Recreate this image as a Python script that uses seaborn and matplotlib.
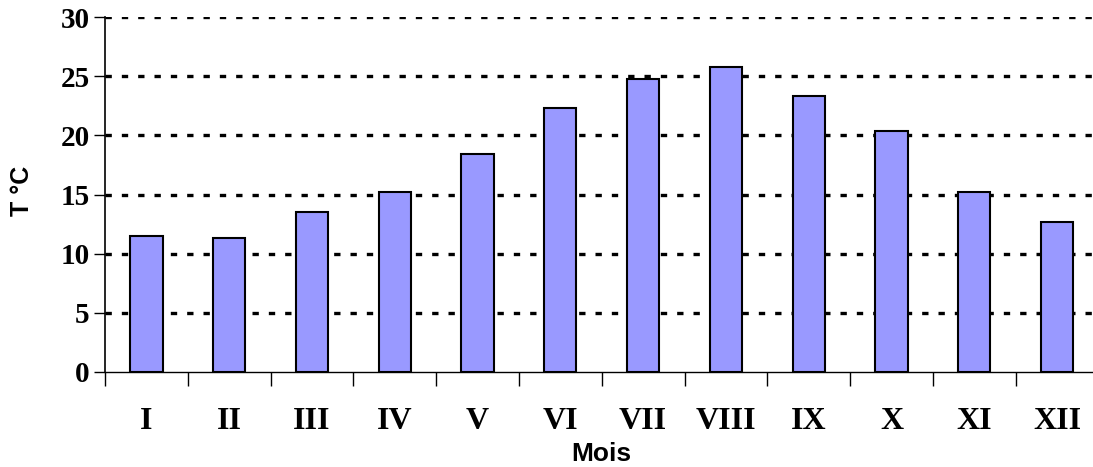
import numpy as np
import pandas as pd
import seaborn as sns
import matplotlib.pyplot as plt
from matplotlib.ticker import FixedLocator

months = ["I", "II", "III", "IV", "V", "VI", "VII", "VIII", "IX", "X", "XI", "XII"]
temps = [11.5, 11.3, 13.5, 15.2, 18.4, 22.3, 24.8, 25.8, 23.3, 20.4, 15.2, 12.7]
yticks = [0, 5, 10, 15, 20, 25, 30]

sns.set_theme(style="white")
plt.rcParams['font.family'] = ['Liberation Serif', 'DejaVu Serif']
plt.rcParams['text.color'] = 'black'
plt.rcParams['axes.labelcolor'] = 'black'
plt.rcParams['xtick.color'] = 'black'
plt.rcParams['ytick.color'] = 'black'

df = pd.DataFrame({"Mois": months, "T": temps})

fig = plt.figure(figsize=(10.93, 4.67), dpi=100)
ax = fig.add_axes([105 / 1093, 1 - 372 / 467, (1098.5 - 105) / 1093, (372 - 17) / 467])

sns.barplot(data=df, x="Mois", y="T", color="#9999FF", saturation=1,
            edgecolor="black", linewidth=1.5, width=0.39, ax=ax, zorder=3)

ax.set_ylim(0, 30)
ax.set_xlim(-0.5, len(months) - 0.5)

# grid
for v in yticks[1:]:
    ax.axhline(v, color="black", linewidth=2.4, linestyle=(0, (1.9, 3.0)), zorder=1)

ax.set_yticks(yticks)
ax.set_yticklabels([str(v) for v in yticks], fontsize=21, fontweight="bold")
ax.tick_params(axis="y", direction="out", length=8, width=1, color="black", pad=3, left=True,
               labelcolor="black")

# x: ticks at boundaries, labels at centres
ax.xaxis.set_major_locator(FixedLocator(np.arange(-0.5, len(months), 1.0)))
ax.xaxis.set_major_formatter(plt.NullFormatter())
ax.xaxis.set_minor_locator(FixedLocator(np.arange(len(months))))
ax.set_xticklabels(months, minor=True, fontsize=23, fontweight="bold")
ax.tick_params(axis="x", which="major", direction="out", length=10, width=1, color="black", bottom=True)
ax.tick_params(axis="x", which="minor", length=0, pad=25, labelcolor="black")

for s in ["top", "right"]:
    ax.spines[s].set_visible(False)
ax.spines["left"].set_color("black")
ax.spines["left"].set_linewidth(1.2)
ax.spines["bottom"].set_color("black")
ax.spines["bottom"].set_linewidth(1.0)

ax.set_xlabel("Mois", fontsize=19, fontweight="bold", family=["Liberation Sans", "DejaVu Sans"])
ax.set_ylabel("T °C", fontsize=18, fontweight="bold", family=["Liberation Sans", "DejaVu Sans"])
ax.xaxis.set_label_coords(0.5, -(454 - 372) / 355, transform=ax.transAxes)
ax.xaxis.label.set_verticalalignment("center")
ax.yaxis.set_label_coords(-(105 - 22) / 993.5, 0.51, transform=ax.transAxes)
ax.yaxis.label.set_verticalalignment("center")

fig.savefig("out.png", dpi=100)
